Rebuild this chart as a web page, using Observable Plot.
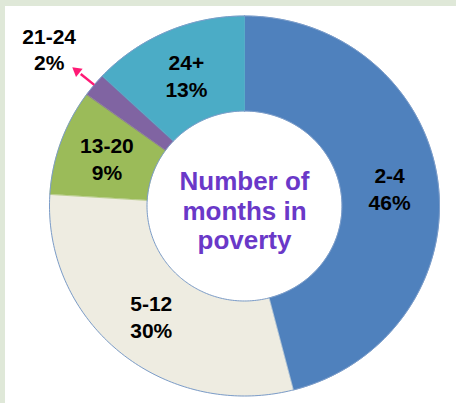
<!DOCTYPE html>
<html>
<head>
<meta charset="utf-8">
<script src="https://cdn.jsdelivr.net/npm/d3@7"></script>
<script src="https://cdn.jsdelivr.net/npm/@observablehq/plot@0.6"></script>
<style>
  html, body { margin: 0; padding: 0; background: #dfe8d8; width: 456px; height: 403px; overflow: hidden; }
  #chart { position: absolute; left: 5px; top: 6px; width: 451px; height: 397px; background: #ffffff; }
  #chart svg { display: block; }
</style>
</head>
<body>
<div id="chart"></div>
<script>
// ---- data ----
const categories = ["2-4", "5-12", "13-20", "21-24", "24+"];
const percents = [46, 30, 9, 2, 13];
const sliceColors = ["#4f81bd", "#eeece1", "#9bbb59", "#8064a2", "#4bacc6"];
const centerTitle = "Number of\nmonths in\npoverty";
const outsideLabel = "21-24"; // labelled outside the ring with an arrow

// ---- geometry derived from data ----
const innerR = 0.5;
const RX = 195, RY = 190;
const pie = d3.pie().sort(null).value(d => d)(percents);
const pt = (a, r) => ({x: r * Math.sin(a), y: r * Math.cos(a)});

const ringPoints = [];
pie.forEach((s, i) => {
  const n = Math.max(4, Math.ceil((s.endAngle - s.startAngle) / 0.005));
  const pts = [];
  for (let k = 0; k <= n; k++) pts.push(pt(s.startAngle + (s.endAngle - s.startAngle) * k / n, 1));
  for (let k = n; k >= 0; k--) pts.push(pt(s.startAngle + (s.endAngle - s.startAngle) * k / n, innerR));
  pts.forEach(p => ringPoints.push({...p, key: categories[i], color: sliceColors[i]}));
});

const circle = r => d3.range(0, 361).map(d => pt(d * Math.PI / 180, r));

const labels = pie.map((s, i) => {
  const mid = (s.startAngle + s.endAngle) / 2;
  const outside = categories[i] === outsideLabel;
  return {...pt(mid, outside ? 1.3 : 0.75), text: `${categories[i]}\n${percents[i]}%`};
});

const arrows = pie.filter((s, i) => categories[i] === outsideLabel).map(s => {
  const mid = (s.startAngle + s.endAngle) / 2;
  const a = pt(mid, 1.0), b = pt(mid, 1.09), tip = pt(mid, 1.14);
  const dx = (tip.x - a.x) * RX, dy = -(tip.y - a.y) * RY;
  return {x1: a.x, y1: a.y, x2: b.x, y2: b.y, hx: (b.x + tip.x) / 2, hy: (b.y + tip.y) / 2,
          rot: Math.atan2(dx, -dy) * 180 / Math.PI};
});

const font = "'Liberation Sans', Arial, sans-serif";

const chart = Plot.plot({
  width: 451,
  height: 397,
  margin: 0,
  style: {background: "#ffffff", fontFamily: font},
  x: {domain: [-1, 1], range: [244 - 5 - RX, 244 - 5 + RX], axis: null},
  y: {domain: [-1, 1], range: [199.5 + RY, 199.5 - RY], axis: null},
  color: {type: "identity"},
  marks: [
    Plot.line(ringPoints, {x: "x", y: "y", z: "key", fill: "color", stroke: "color", strokeWidth: 0.6, curve: "linear-closed"}),
    Plot.line(circle(1), {x: "x", y: "y", stroke: "#7b9cc9", strokeWidth: 1, curve: "linear-closed"}),
    Plot.line(circle(innerR), {x: "x", y: "y", stroke: "#7b9cc9", strokeWidth: 1, curve: "linear-closed"}),
    Plot.text(labels, {x: "x", y: "y", text: "text", fontSize: 21, fontWeight: "bold", lineHeight: 1.27, fill: "#000000"}),
    Plot.link(arrows, {x1: "x1", y1: "y1", x2: "x2", y2: "y2", stroke: "#ff1a75", strokeWidth: 2.5}),
    Plot.dot(arrows, {x: "hx", y: "hy", symbol: "triangle2", rotate: "rot", r: 5, fill: "#ff1a75", stroke: "none"}),
    Plot.text([{x: 0, y: 0, text: centerTitle}], {x: "x", y: "y", text: "text", fontSize: 26, fontWeight: "bold", lineHeight: 1.15, dy: 4, fill: "#6a38c8"})
  ]
});
document.getElementById("chart").appendChild(chart);
</script>
</body>
</html>
